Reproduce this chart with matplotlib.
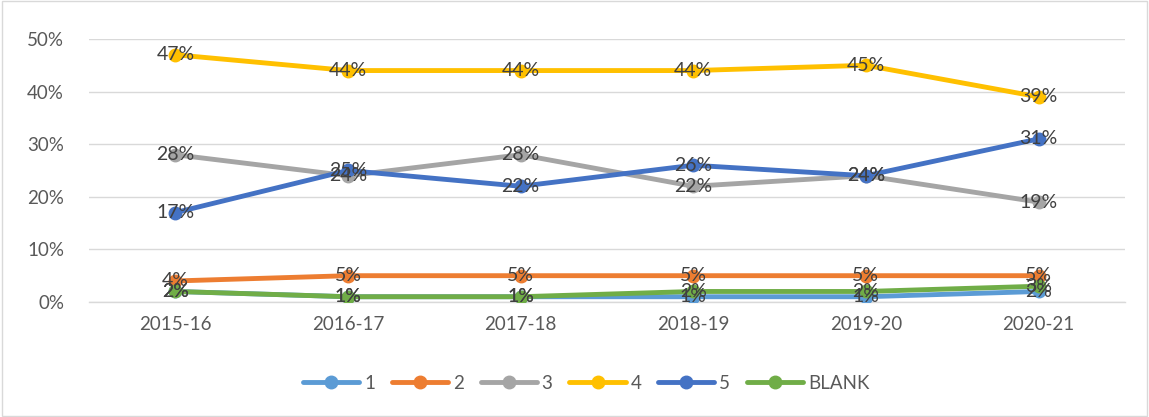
import matplotlib.pyplot as plt
from matplotlib.patches import Rectangle

plt.rcParams['font.family'] = ['Lato', 'DejaVu Sans']

# Data
years = ['2015-16', '2016-17', '2017-18', '2018-19', '2019-20', '2020-21']
s1 = [2, 1, 1, 1, 1, 2]
s2 = [4, 5, 5, 5, 5, 5]
s3 = [28, 24, 28, 22, 24, 19]
s4 = [47, 44, 44, 44, 45, 39]
s5 = [17, 25, 22, 26, 24, 31]
blank = [2, 1, 1, 2, 2, 3]

series = [('1', s1, '#5B9BD5'), ('2', s2, '#ED7D31'), ('3', s3, '#A5A5A5'),
          ('4', s4, '#FFC000'), ('5', s5, '#4472C4'), ('BLANK', blank, '#70AD47')]

fig = plt.figure(figsize=(11.49, 4.17), dpi=100)
ax = fig.add_axes([0.0775, 0.2758, 0.9015, 0.6307])

x = list(range(len(years)))
for name, vals, col in series:
    ax.plot(x, vals, color=col, lw=3.5, marker='o', ms=9, label=name,
            solid_capstyle='round', zorder=3)
for name, vals, col in series:
    for xi, v in zip(x, vals):
        ax.text(xi, v, f'{v}%', ha='center', va='center', fontsize=14,
                color='#404040', zorder=5)

ax.set_xlim(-0.5, len(years) - 0.5)
ax.set_ylim(0, 50)
ax.set_yticks(range(0, 51, 10))
ax.set_yticklabels([f'{t}%' for t in range(0, 51, 10)])
ax.set_xticks(x)
ax.set_xticklabels(years)
ax.tick_params(length=0, labelsize=13.5, colors='#595959', pad=10)
ax.tick_params(axis='y', pad=18)
ax.grid(axis='y', color='#D9D9D9', lw=1)
ax.set_axisbelow(True)
for sp in ['top', 'right', 'left']:
    ax.spines[sp].set_visible(False)
ax.spines['bottom'].set_color('#D9D9D9')
ax.spines['bottom'].set_linewidth(1)

ax.legend(loc='center', bbox_to_anchor=(0.48, -0.31), ncol=6, frameon=False,
          fontsize=13.5, labelcolor='#595959', handlelength=3.0,
          columnspacing=0.9, handletextpad=0.25)

fig.patches.append(Rectangle((0.002, 0.003), 0.996, 0.994, transform=fig.transFigure,
                             fill=False, edgecolor='#D9D9D9', lw=1))

fig.savefig('out.png', dpi=100)
